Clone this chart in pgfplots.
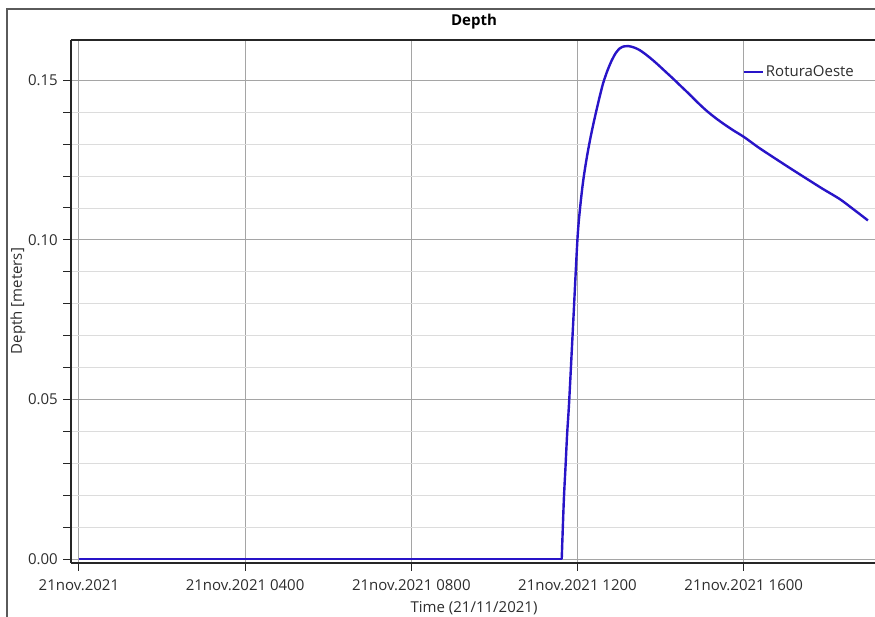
\documentclass[border=0pt]{standalone}
\usepackage{fontspec}
\setmainfont{Open Sans}
\usepackage{pgfplots}
\pgfplotsset{compat=1.18}
\definecolor{curve}{RGB}{40,20,200}
\definecolor{majgrid}{RGB}{165,165,165}
\definecolor{mingrid}{RGB}{220,220,220}
\definecolor{txt}{RGB}{45,45,45}
\definecolor{frame}{RGB}{90,90,90}

\begin{document}
\fontsize{15}{17}\selectfont
\begin{tikzpicture}[x=1pt,y=1pt]
\useasboundingbox (-71,-54) rectangle (804,563);
\draw[line width=1.5pt, frame] (-64,-60) -- (-64,554) -- (810,554);
\begin{axis}[
    at={(0,0)}, anchor=south west,
    scale only axis, width=804pt, height=523pt,
    xmin=-0.19, xmax=19.16,
    ymin=-0.00116, ymax=0.1626,
    axis x line=box, axis y line=left,
    axis line style={-, line width=1.2pt, black!85},
    every inner y axis line/.append style={-},
    every outer y axis line/.append style={-},
    xtick={0,4,8,12,16},
    xticklabels={21nov.2021, 21nov.2021 0400, 21nov.2021 0800, 21nov.2021 1200, 21nov.2021 1600},
    xtick pos=bottom,
    ytick={0,0.05,0.1,0.15},
    minor y tick num=4,
    yticklabel style={/pgf/number format/.cd, fixed, fixed zerofill, precision=2},
    /pgf/number format/assume math mode=true,
    tick label style={txt, font=\fontsize{15}{17}\selectfont},
    xticklabel style={yshift=-3pt},
    tick align=outside,
    major tick length=8pt, minor tick length=8pt,
    tick style={black!85, line width=1pt},
    grid=both,
    major grid style={majgrid, line width=1pt},
    minor grid style={mingrid, line width=0.9pt},
    legend style={draw=none, fill=none, at={(rel axis cs:0.835,0.9388)}, anchor=west, inner sep=0pt,
                  font=\fontsize{15}{17}\selectfont, text=txt},
    legend image code/.code={\draw[#1] (0pt,0pt) -- (19pt,0pt);},
    legend cell align=left,
]
\addplot[curve, line width=2.4pt, forget plot] coordinates {(0,0) (11.62,0)};
\addplot[curve, line width=2.4pt, smooth, tension=0.5] coordinates {
(11.62,0) (11.67,0.0182) (11.71,0.0286) (11.75,0.0391) (11.80,0.0496)
(11.90,0.0750) (12.0,0.1005) (12.07,0.1110) (12.14,0.1188) (12.22,0.1255)
(12.30,0.1312) (12.38,0.1362) (12.46,0.1408) (12.54,0.1452) (12.62,0.1492)
(12.72,0.1530) (12.82,0.1561) (12.92,0.1585) (13.02,0.1600) (13.12,0.1606)
(13.22,0.1607) (13.35,0.1603) (13.50,0.1594) (13.70,0.1575) (13.90,0.1553)
(14.10,0.1529) (14.30,0.1505) (14.50,0.1480) (14.71,0.1454) (14.91,0.1428)
(15.11,0.1404) (15.31,0.1383) (15.51,0.1364) (15.75,0.1343) (16.01,0.1322)
(16.35,0.1290) (16.71,0.1259) (17.10,0.1226) (17.51,0.1192) (17.90,0.1160)
(18.31,0.1128) (18.65,0.1095) (18.99,0.1061)
};
\addlegendentry{RoturaOeste}
\end{axis}
\node[font=\bfseries\fontsize{15}{17}\selectfont, text=black] at (403,541) {Depth};
\node[text=txt] at (403,-45) {Time (21/11/2021)};
\node[text=txt, rotate=90] at (-53,262) {Depth [meters]};
\end{tikzpicture}
\end{document}
